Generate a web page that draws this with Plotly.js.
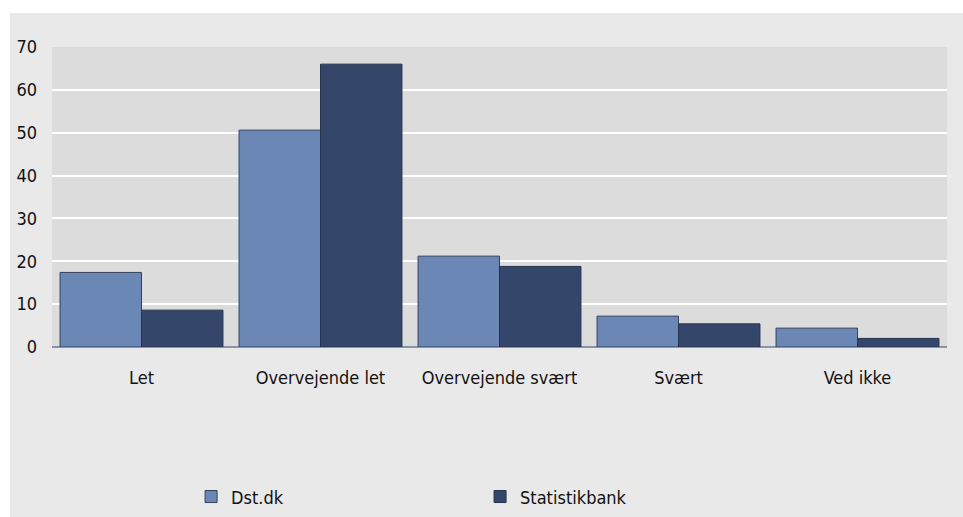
<!DOCTYPE html>
<html>
<head>
<meta charset="utf-8">
<script src="https://cdn.plot.ly/plotly-3.0.1.min.js"></script>
<style>
html, body { margin: 0; padding: 0; background: #ffffff; }
#chart { position: absolute; left: 10px; top: 13px; width: 953px; height: 504px; }
</style>
</head>
<body>
<div id="chart"></div>
<script>
const categories = ["Let", "Overvejende let", "Overvejende svært", "Svært", "Ved ikke"];
const dstValues = [17.4, 50.6, 21.2, 7.2, 4.4];
const statistikbankValues = [8.6, 66.0, 18.8, 5.4, 2.0];
const seriesNames = ["Dst.dk", "Statistikbank"];
const yTicks = [0, 10, 20, 30, 40, 50, 60, 70];

const font = { family: "DejaVu Sans Condensed, Open Sans, sans-serif", size: 18, color: "#111111" };

const traces = [
  {
    type: "bar", name: seriesNames[0], x: categories, y: dstValues,
    marker: { color: "#6a87b5", line: { color: "#33415e", width: 1 } },
    hoverinfo: "x+y"
  },
  {
    type: "bar", name: seriesNames[1], x: categories, y: statistikbankValues,
    marker: { color: "#34476b", line: { color: "#26334d", width: 1 } },
    hoverinfo: "x+y"
  }
];

const layout = {
  width: 953, height: 504,
  margin: { l: 42, r: 16, t: 34, b: 170 },
  paper_bgcolor: "#e9e9e9",
  plot_bgcolor: "#dcdcdc",
  font: font,
  barmode: "group",
  bargap: 0.09,
  bargroupgap: 0,
  showlegend: true,
  legend: {
    orientation: "h",
    xref: "container", yref: "container",
    x: 0.19, xanchor: "left",
    y: 0.04, yanchor: "middle",
    bgcolor: "rgba(0,0,0,0)",
    entrywidth: 244, entrywidthmode: "pixels",
    font: font,
    traceorder: "normal"
  },
  xaxis: {
    type: "category",
    showgrid: false,
    showline: false,
    ticks: "",
    tickfont: font,
    ticklabelstandoff: 18,
    zeroline: false
  },
  yaxis: {
    range: [0, 70],
    tickvals: yTicks,
    ticktext: yTicks.map(String),
    showgrid: true,
    gridcolor: "#ffffff",
    gridwidth: 2,
    zeroline: true,
    zerolinecolor: "#8a94a8",
    zerolinewidth: 1.5,
    showline: false,
    ticks: "",
    tickfont: font,
    ticklabelstandoff: 14
  }
};

Plotly.newPlot("chart", traces, layout, { displayModeBar: false, staticPlot: true });
</script>
</body>
</html>
